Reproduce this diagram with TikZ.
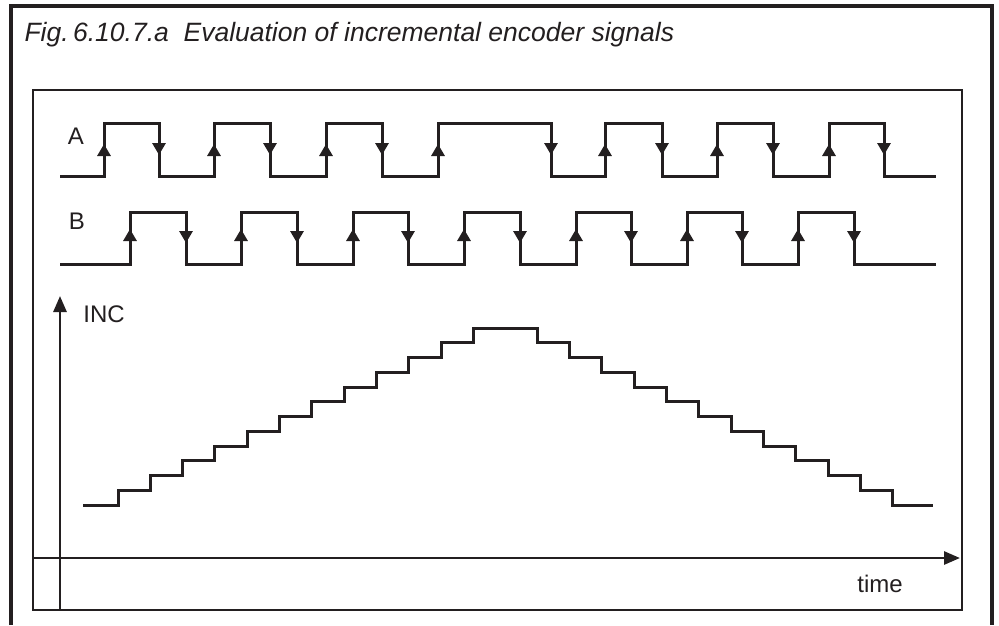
\documentclass[tikz,border=0pt]{standalone}
\usepackage{fontspec}
\setmainfont{Liberation Sans}
\usetikzlibrary{arrows.meta}
\definecolor{ink}{HTML}{231F20}

\begin{document}
\begin{tikzpicture}[
  x=1pt, y=-1pt,
  every node/.style={font=\fontsize{24}{28}\selectfont, text=ink},
  frame/.style={draw=ink, line width=2.8pt},
  sig/.style={draw=ink, line width=3pt, line join=miter},
  edgetip/.style={draw=ink, line width=3pt, -{Triangle[length=12pt, width=13pt]}},
  axis/.style={draw=ink, line width=2.8pt, -{Triangle[length=16pt, width=13pt]}}
]
  \useasboundingbox (0,0) rectangle (999,625);

  % Frames
  \draw[frame, line width=3.2pt] (11,625) -- (11,6) -- (992,6) -- (992,625);
  \draw[frame] (33,90) rectangle (962,610);

  \node[font=\itshape\fontsize{26.5}{30}\selectfont, anchor=base west] (title) at (21,41)
    {Fig.\,6.10.7.a\ \ Evaluation of incremental encoder signals};

  % Signal A
  \node (labA) at (76,136) {A};
  \draw[sig] (60,176) -| (104,123) -| (159,176) -| (214,123) -| (270,176)
    -| (326,123) -| (382,176) -| (438,123) -| (551,176) -| (605,123)
    -| (662,176) -| (717,123) -| (773,176) -| (829,123) -| (884,176) -- (936,176);
  \foreach \x in {104,214,326,438,605,717,829}
    \draw[edgetip] (\x,176) -- (\x,144);
  \foreach \x in {159,270,382,551,662,773,884}
    \draw[edgetip] (\x,123) -- (\x,155);

  % Signal B
  \node (labB) at (77,221) {B};
  \draw[sig] (60,264) -| (130,212) -| (186,264) -| (241,212) -| (297,264)
    -| (353,212) -| (408,264) -| (464,212) -| (520,264) -| (576,212)
    -| (631,264) -| (687,212) -| (742,264) -| (798,212) -| (854,264) -- (936,264);
  \foreach \x in {130,241,353,464,576,687,798}
    \draw[edgetip] (\x,264) -- (\x,229);
  \foreach \x in {186,297,408,520,631,742,854}
    \draw[edgetip] (\x,212) -- (\x,243);

  % Axes
  \coordinate (yfoot) at (60,610);
  \coordinate (ytip) at (60,296);
  \coordinate (xfoot) at (33,558);
  \coordinate (xtip) at (960,558);
  \draw[axis] (yfoot) -- (ytip);
  \draw[axis] (xfoot) -- (xtip);
  \node (inc) at (104,314) {INC};
  \node (time) at (880,584) {time};

  % Counter INC
  \draw[sig] (83,505)
    foreach \k in {1,...,12} { -| ({85.7+32.3*\k},{505-14.75*\k}) }
    foreach \k in {1,...,12} { -| ({504.64+32.36*\k},{328+14.75*\k}) }
    -- (933,505);
\end{tikzpicture}
\end{document}
